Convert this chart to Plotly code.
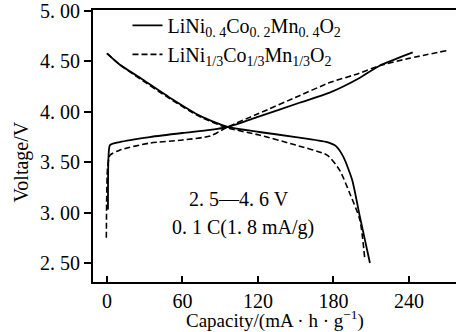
import plotly.graph_objects as go

# Capacity (mA h g^-1) and voltage (V)
a_charge_cap = [0.8, 1.2, 2.4, 10, 34, 60, 82, 96, 120, 153, 177, 200, 217, 243]
a_charge_v = [3.03, 3.55, 3.67, 3.70, 3.75, 3.79, 3.82, 3.85, 3.95, 4.09, 4.19, 4.33, 4.46, 4.59]
a_dis_cap = [0, 10, 26, 50, 74, 96, 121, 150, 175, 182, 188, 195, 201, 209]
a_dis_v = [4.58, 4.47, 4.34, 4.14, 3.96, 3.85, 3.80, 3.75, 3.70, 3.66, 3.55, 3.32, 2.96, 2.50]

b_charge_cap = [-0.5, 0.5, 2.4, 10, 34, 60, 82, 96, 120, 153, 177, 200, 217, 240, 271]
b_charge_v = [2.75, 3.45, 3.57, 3.62, 3.69, 3.72, 3.76, 3.85, 3.98, 4.16, 4.29, 4.38, 4.46, 4.53, 4.61]
b_dis_cap = [0, 10, 26, 50, 74, 96, 121, 150, 175, 185, 193, 201, 205]
b_dis_v = [4.58, 4.47, 4.33, 4.13, 3.95, 3.84, 3.77, 3.67, 3.57, 3.42, 3.19, 2.93, 2.53]

series_names = ["LiNi<sub>0. 4</sub>Co<sub>0. 2</sub>Mn<sub>0. 4</sub>O<sub>2</sub>",
                "LiNi<sub>1/3</sub>Co<sub>1/3</sub>Mn<sub>1/3</sub>O<sub>2</sub>"]

x_tickvals = [0, 60, 120, 180, 240]
x_ticktext = ["0", "60", "120", "180", "240"]
y_tickvals = [2.5, 3.0, 3.5, 4.0, 4.5, 5.0]
y_ticktext = ["2. 50", "3. 00", "3. 50", "4. 00", "4. 50", "5. 00"]

# condition labels and their anchor points (capacity, voltage)
cond_texts = ["2. 5—4. 6 V", "0. 1 C(1. 8 mA/g)"]
cond_x = [105, 108]
cond_y = [3.14, 2.85]

FONT = "Liberation Serif"
FS = 20

fig = go.Figure()
fig.add_trace(go.Scatter(
    x=a_charge_cap + [None] + a_dis_cap, y=a_charge_v + [None] + a_dis_v,
    mode="lines", name=series_names[0],
    line=dict(color="black", width=1.8, shape="spline", smoothing=0.6)))
fig.add_trace(go.Scatter(
    x=b_charge_cap + [None] + b_dis_cap, y=b_charge_v + [None] + b_dis_v,
    mode="lines", name=series_names[1],
    line=dict(color="black", width=1.6, dash="6px,3px", shape="spline", smoothing=0.6)))

annotations = [
    dict(text=t, x=xv, y=yv, xref="x", yref="y", xanchor="center", yanchor="middle",
         showarrow=False, font=dict(family=FONT, size=FS))
    for t, xv, yv in zip(cond_texts, cond_x, cond_y)
]
annotations += [
    dict(text="Capacity/(mA · h · g<sup>−1</sup>)", x=0.5, y=-0.137,
         xref="paper", yref="paper", xanchor="center", yanchor="middle",
         showarrow=False, font=dict(family=FONT, size=19)),
    dict(text="Voltage/V", x=-0.235, y=0.44, xref="paper", yref="paper",
         textangle=-90, showarrow=False, font=dict(family=FONT, size=FS)),
]

fig.update_layout(
    width=456, height=332,
    margin=dict(l=93, r=0, t=10, b=50, autoexpand=False),
    paper_bgcolor="white", plot_bgcolor="white",
    font=dict(family=FONT, size=FS, color="black"),
    showlegend=True,
    legend=dict(x=0.095, y=1.015, xanchor="left", yanchor="top",
                bgcolor="rgba(0,0,0,0)", font=dict(family=FONT, size=FS),
                tracegroupgap=0, itemwidth=30),
    xaxis=dict(range=[-11.1, 277.4], tickvals=x_tickvals, ticktext=x_ticktext,
               ticks="inside", ticklen=6, tickwidth=1.5, tickcolor="black",
               showline=True, linewidth=2, linecolor="black", mirror=True,
               showgrid=False, zeroline=False,
               tickfont=dict(family=FONT, size=FS)),
    yaxis=dict(range=[2.312, 5.01], tickvals=y_tickvals, ticktext=y_ticktext,
               ticks="outside", ticklen=7, tickwidth=1.5, tickcolor="black",
               showline=True, linewidth=2, linecolor="black", mirror=False,
               showgrid=False, zeroline=False,
               tickfont=dict(family=FONT, size=FS)),
    annotations=annotations,
)

fig.write_html("out.html")
